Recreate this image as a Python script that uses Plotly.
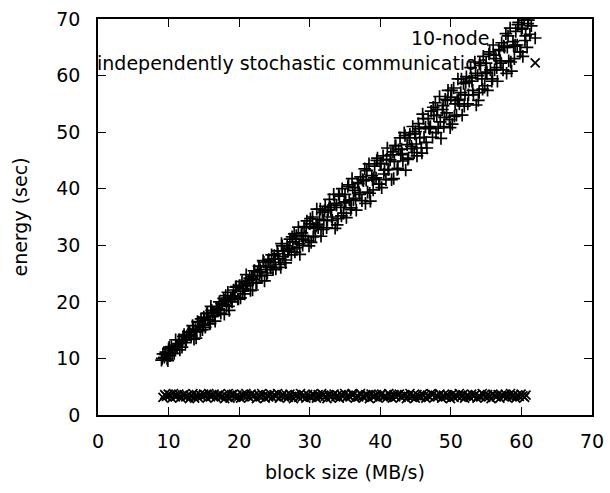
import plotly.graph_objects as go

# ---- data ----
series_names = ["10-node", "independently stochastic communication"]

node_x = [
    9.0, 9.2, 9.4, 9.6, 9.8, 10.0, 10.2, 10.4, 10.6, 10.8, 11.0, 11.2, 11.4, 11.6, 11.8,
    12.0, 12.2, 12.4, 12.6, 12.8, 13.0, 13.2, 13.4, 13.6, 13.8, 14.0, 14.2, 14.4, 14.6, 14.8,
    15.0, 15.2, 15.4, 15.6, 15.8, 16.0, 16.2, 16.4, 16.6, 16.8, 17.0, 17.2, 17.4, 17.6, 17.8,
    18.0, 18.2, 18.4, 18.6, 18.8, 19.0, 19.2, 19.4, 19.6, 19.8, 20.0, 20.2, 20.4, 20.6, 20.8,
    21.0, 21.2, 21.4, 21.6, 21.8, 22.0, 22.2, 22.4, 22.6, 22.8, 23.0, 23.2, 23.4, 23.6, 23.8,
    24.0, 24.2, 24.4, 24.6, 24.8, 25.0, 25.2, 25.4, 25.6, 25.8, 26.0, 26.2, 26.4, 26.6, 26.8,
    27.0, 27.2, 27.4, 27.6, 27.8, 28.0, 28.2, 28.4, 28.6, 28.8, 29.0, 29.2, 29.4, 29.6, 29.8,
    30.0, 30.2, 30.4, 30.6, 30.8, 31.0, 31.2, 31.4, 31.6, 31.8, 32.0, 32.2, 32.4, 32.6, 32.8,
    33.0, 33.2, 33.4, 33.6, 33.8, 34.0, 34.2, 34.4, 34.6, 34.8, 35.0, 35.2, 35.4, 35.6, 35.8,
    36.0, 36.2, 36.4, 36.6, 36.8, 37.0, 37.2, 37.4, 37.6, 37.8, 38.0, 38.2, 38.4, 38.6, 38.8,
    39.0, 39.2, 39.4, 39.6, 39.8, 40.0, 40.2, 40.4, 40.6, 40.8, 41.0, 41.2, 41.4, 41.6, 41.8,
    42.0, 42.2, 42.4, 42.6, 42.8, 43.0, 43.2, 43.4, 43.6, 43.8, 44.0, 44.2, 44.4, 44.6, 44.8,
    45.0, 45.2, 45.4, 45.6, 45.8, 46.0, 46.2, 46.4, 46.6, 46.8, 47.0, 47.2, 47.4, 47.6, 47.8,
    48.0, 48.2, 48.4, 48.6, 48.8, 49.0, 49.2, 49.4, 49.6, 49.8, 50.0, 50.2, 50.4, 50.6, 50.8,
    51.0, 51.2, 51.4, 51.6, 51.8, 52.0, 52.2, 52.4, 52.6, 52.8, 53.0, 53.2, 53.4, 53.6, 53.8,
    54.0, 54.2, 54.4, 54.6, 54.8, 55.0, 55.2, 55.4, 55.6, 55.8, 56.0, 56.2, 56.4, 56.6, 56.8,
    57.0, 57.2, 57.4, 57.6, 57.8, 58.0, 58.2, 58.4, 58.6, 58.8, 59.0, 59.2, 59.4, 59.6, 59.8,
    60.0, 60.2, 60.4, 60.6, 60.8, 61.0, 61.2, 61.4,
    9.1, 9.5, 9.9, 10.1, 10.5, 10.9, 11.1, 11.5, 11.9, 12.1, 12.5, 12.9,
    13.1, 13.5, 13.9, 14.1, 14.5, 14.9, 15.1, 15.5, 15.9, 16.1, 16.5, 16.9,
    17.1, 17.5, 17.9, 18.1, 18.5, 18.9, 19.1, 19.5, 19.9, 20.1, 20.5, 20.9,
    21.1, 21.5, 21.9, 22.1, 22.5, 22.9, 23.1, 23.5, 23.9, 24.1, 24.5, 24.9,
    25.1, 25.5, 25.9, 26.1, 26.5, 26.9, 27.1, 27.5, 27.9, 28.1, 28.5, 28.9,
    29.1, 29.5, 29.9, 30.1, 30.5, 30.9, 31.1, 31.5, 31.9, 32.1, 32.5, 32.9,
    33.1, 33.5, 33.9, 34.1, 34.5, 34.9, 35.1, 35.5, 35.9, 36.1, 36.5, 36.9,
    37.1, 37.5, 37.9, 38.1, 38.5, 38.9, 39.1, 39.5, 39.9, 40.1, 40.5, 40.9,
    41.1, 41.5, 41.9, 42.1, 42.5, 42.9, 43.1, 43.5, 43.9, 44.1, 44.5, 44.9,
    45.1, 45.5, 45.9, 46.1, 46.5, 46.9, 47.1, 47.5, 47.9, 48.1, 48.5, 48.9,
    49.1, 49.5, 49.9, 50.1, 50.5, 50.9, 51.1, 51.5, 51.9, 52.1, 52.5, 52.9,
    53.1, 53.5, 53.9, 54.1, 54.5, 54.9, 55.1, 55.5, 55.9, 56.1, 56.5, 56.9,
    57.1, 57.5, 57.9, 58.1, 58.5, 58.9, 59.1, 59.5, 59.9, 60.1, 60.5, 60.9]
node_y = [
    9.7, 10.8, 10.2, 11.1, 9.9, 11.7, 10.5, 12.1, 11.4, 10.9, 13.3, 12.1, 12.6, 11.5, 13.1,
    13.3, 14.2, 12.8, 14.0, 14.7, 14.7, 14.0, 15.8, 13.4, 15.1, 14.7, 16.4, 15.6, 17.0, 15.1,
    17.3, 15.5, 17.9, 16.8, 16.1, 19.2, 17.4, 18.2, 16.6, 18.9, 18.7, 20.0, 18.0, 19.6, 20.6,
    20.3, 19.3, 21.7, 18.5, 20.7, 20.0, 22.1, 21.0, 22.7, 20.5, 22.8, 20.7, 23.6, 22.3, 21.4,
    24.8, 22.9, 23.8, 22.0, 24.5, 24.0, 25.5, 23.3, 25.2, 26.3, 25.7, 24.6, 27.3, 23.7, 26.2,
    25.1, 27.5, 26.3, 28.3, 25.7, 28.2, 25.8, 29.0, 27.6, 26.6, 30.3, 28.0, 29.0, 26.9, 29.9,
    29.2, 31.1, 28.3, 30.6, 32.0, 31.1, 29.6, 33.2, 28.4, 31.7, 30.0, 33.3, 31.6, 34.3, 30.8,
    33.8, 30.5, 35.0, 33.0, 31.6, 36.4, 33.1, 34.6, 31.6, 35.8, 34.4, 36.9, 33.1, 36.2, 38.1,
    36.3, 34.4, 39.0, 33.0, 37.1, 34.7, 38.7, 36.7, 40.0, 35.7, 39.0, 34.9, 40.4, 38.0, 36.3,
    41.8, 38.0, 39.7, 36.2, 41.1, 39.3, 42.1, 37.9, 41.4, 43.5, 41.5, 39.4, 44.4, 37.8, 42.3,
    39.8, 44.0, 41.9, 45.4, 40.8, 44.4, 40.2, 45.8, 43.3, 41.6, 47.2, 43.4, 45.1, 41.6, 46.5,
    44.8, 47.6, 43.4, 46.9, 49.0, 47.0, 44.9, 49.9, 43.3, 47.8, 45.4, 49.6, 47.5, 51.0, 46.4,
    50.1, 45.8, 51.5, 49.0, 47.2, 53.2, 49.1, 50.9, 47.2, 52.4, 50.6, 53.7, 49.1, 52.9, 55.2,
    53.0, 50.7, 56.3, 48.9, 54.0, 51.0, 55.8, 53.4, 57.4, 52.2, 56.2, 51.4, 57.8, 55.0, 53.0,
    59.4, 55.0, 57.0, 53.0, 58.6, 56.6, 59.8, 55.0, 59.0, 61.4, 59.0, 56.6, 62.4, 54.8, 60.0,
    57.0, 61.8, 59.4, 63.4, 58.2, 62.2, 57.4, 63.8, 61.0, 59.0, 65.4, 61.0, 63.0, 59.0, 64.6,
    62.6, 65.8, 61.0, 65.0, 67.4, 65.0, 62.6, 68.4, 60.8, 66.0, 63.0, 67.8, 65.4, 69.4, 64.2,
    68.2, 63.4, 69.8, 67.0, 65.0, 69.8, 67.3, 68.8,
    10.0, 10.7, 9.6, 12.0, 10.9, 11.6, 12.3, 13.3, 12.0, 13.9, 13.3, 14.2,
    14.2, 15.2, 13.6, 16.5, 14.9, 15.9, 16.7, 18.0, 16.2, 18.5, 17.6, 18.8,
    18.5, 19.7, 17.8, 21.1, 19.2, 20.4, 21.0, 22.6, 20.5, 22.9, 21.9, 23.3,
    22.9, 24.2, 22.1, 25.5, 23.4, 24.7, 25.3, 27.0, 24.7, 27.2, 26.1, 27.6,
    27.0, 28.5, 26.1, 29.9, 27.4, 28.9, 29.5, 31.5, 28.8, 31.7, 30.3, 32.2,
    31.1, 33.1, 29.9, 34.7, 31.5, 33.4, 33.7, 36.4, 32.8, 36.1, 34.4, 36.7,
    35.0, 37.4, 33.6, 39.0, 35.2, 37.5, 37.7, 40.7, 36.6, 40.2, 38.3, 40.9,
    39.0, 41.6, 37.4, 43.2, 39.2, 41.6, 41.9, 45.0, 40.8, 44.5, 42.6, 45.2,
    43.4, 46.0, 41.8, 47.6, 43.6, 46.0, 46.2, 49.4, 45.2, 49.0, 47.1, 49.7,
    47.9, 50.6, 46.3, 52.4, 48.2, 50.8, 51.0, 54.4, 49.9, 54.0, 51.8, 54.7,
    52.6, 55.6, 50.8, 57.4, 52.8, 55.6, 55.8, 59.4, 54.6, 58.8, 56.6, 59.6,
    57.4, 60.4, 55.6, 62.2, 57.6, 60.4, 60.6, 64.2, 59.4, 63.6, 61.4, 64.4,
    62.2, 65.2, 60.4, 67.0, 62.4, 65.2, 65.4, 69.0, 64.2, 68.4, 66.2, 69.2]

comm_x = [
    9.2, 9.45, 9.7, 9.95, 10.2, 10.45, 10.7, 10.95, 11.2, 11.45, 11.7, 11.95,
    12.2, 12.45, 12.7, 12.95, 13.2, 13.45, 13.7, 13.95, 14.2, 14.45, 14.7, 14.95,
    15.2, 15.45, 15.7, 15.95, 16.2, 16.45, 16.7, 16.95, 17.2, 17.45, 17.7, 17.95,
    18.2, 18.45, 18.7, 18.95, 19.2, 19.45, 19.7, 19.95, 20.2, 20.45, 20.7, 20.95,
    21.2, 21.45, 21.7, 21.95, 22.2, 22.45, 22.7, 22.95, 23.2, 23.45, 23.7, 23.95,
    24.2, 24.45, 24.7, 24.95, 25.2, 25.45, 25.7, 25.95, 26.2, 26.45, 26.7, 26.95,
    27.2, 27.45, 27.7, 27.95, 28.2, 28.45, 28.7, 28.95, 29.2, 29.45, 29.7, 29.95,
    30.2, 30.45, 30.7, 30.95, 31.2, 31.45, 31.7, 31.95, 32.2, 32.45, 32.7, 32.95,
    33.2, 33.45, 33.7, 33.95, 34.2, 34.45, 34.7, 34.95, 35.2, 35.45, 35.7, 35.95,
    36.2, 36.45, 36.7, 36.95, 37.2, 37.45, 37.7, 37.95, 38.2, 38.45, 38.7, 38.95,
    39.2, 39.45, 39.7, 39.95, 40.2, 40.45, 40.7, 40.95, 41.2, 41.45, 41.7, 41.95,
    42.2, 42.45, 42.7, 42.95, 43.2, 43.45, 43.7, 43.95, 44.2, 44.45, 44.7, 44.95,
    45.2, 45.45, 45.7, 45.95, 46.2, 46.45, 46.7, 46.95, 47.2, 47.45, 47.7, 47.95,
    48.2, 48.45, 48.7, 48.95, 49.2, 49.45, 49.7, 49.95, 50.2, 50.45, 50.7, 50.95,
    51.2, 51.45, 51.7, 51.95, 52.2, 52.45, 52.7, 52.95, 53.2, 53.45, 53.7, 53.95,
    54.2, 54.45, 54.7, 54.95, 55.2, 55.45, 55.7, 55.95, 56.2, 56.45, 56.7, 56.95,
    57.2, 57.45, 57.7, 57.95, 58.2, 58.45, 58.7, 58.95, 59.2, 59.45, 59.7, 59.95,
    60.2, 60.45, 60.65]
comm_y = [
    3.1, 3.6, 3.3, 3.7, 3.5, 3.0, 3.8, 3.2, 3.4, 3.7, 3.1, 3.5,
    3.6, 3.2, 3.4, 2.9, 3.3, 3.8, 3.0, 3.6, 3.1, 3.6, 3.3, 3.7,
    3.5, 3.0, 3.8, 3.2, 3.4, 3.7, 3.1, 3.5, 3.6, 3.2, 3.4, 2.9,
    3.3, 3.8, 3.0, 3.6, 3.7, 3.1, 3.5, 3.3, 3.0, 3.6, 3.2, 3.8,
    3.4, 3.1, 3.7, 3.3, 3.5, 2.9, 3.6, 3.2, 3.8, 3.4, 3.0, 3.5,
    3.2, 3.7, 3.1, 3.6, 3.3, 3.8, 3.0, 3.4, 3.6, 3.2, 3.5, 3.1,
    3.7, 3.3, 2.9, 3.6, 3.4, 3.1, 3.8, 3.2, 3.5, 3.0, 3.6, 3.3,
    3.1, 3.7, 3.4, 3.0, 3.6, 3.2, 3.8, 3.5, 3.3, 2.9, 3.6, 3.1,
    3.4, 3.7, 3.2, 3.5, 3.0, 3.6, 3.3, 3.8, 3.1, 3.5, 3.2, 3.7,
    3.6, 3.0, 3.4, 3.2, 3.8, 3.3, 3.1, 3.6, 3.5, 2.9, 3.7, 3.2,
    3.3, 3.6, 3.0, 3.5, 3.7, 3.2, 3.4, 3.1, 3.8, 3.3, 3.0, 3.6,
    3.2, 3.5, 3.7, 3.1, 3.4, 3.6, 2.9, 3.3, 3.8, 3.2, 3.5, 3.0,
    3.6, 3.3, 3.1, 3.7, 3.4, 3.0, 3.5, 3.2, 3.8, 3.6, 3.1, 3.4,
    3.3, 3.7, 3.0, 3.5, 3.2, 3.6, 3.4, 2.9, 3.7, 3.1, 3.5, 3.3,
    3.8, 3.2, 3.6, 3.0, 3.4, 3.5, 3.1, 3.7, 3.3, 3.6, 3.0, 3.4,
    3.2, 3.8, 3.5, 3.1, 3.6, 3.3, 2.9, 3.7, 3.4, 3.2, 3.6, 3.0,
    3.5, 3.3, 3.7, 3.1, 3.4, 3.8, 3.2, 3.6, 3.0, 3.5, 3.3, 3.7,
    3.4, 3.1, 3.5]

tick_vals = [0, 10, 20, 30, 40, 50, 60, 70]
x_title = "block size (MB/s)"
y_title = "energy (sec)"

# ---- styling ----
FONT = "DejaVu Sans"
FS = 19
symbols = ["cross-thin-open", "x-thin-open"]
marker_style = dict(size=9, color="black")
marker_line = dict(color="black", width=1.7)

fig = go.Figure()
for name, xs, ys, sym in [(series_names[0], node_x, node_y, symbols[0]),
                          (series_names[1], comm_x, comm_y, symbols[1])]:
    fig.add_trace(go.Scatter(
        x=xs, y=ys, mode="markers", name=name, showlegend=False, cliponaxis=True,
        hoverinfo="skip",
        marker=dict(symbol=sym, line=marker_line, **marker_style),
    ))

# gnuplot-style key: text right-aligned, point sample to the right
key_rows_y = [0.952, 0.889]
key_text_x = 0.795
key_sample_x = 0.885
for i, name in enumerate(series_names):
    fig.add_annotation(x=key_text_x, y=key_rows_y[i], xref="paper", yref="paper",
                       text=name, showarrow=False, xanchor="right", yanchor="middle",
                       font=dict(family=FONT, size=FS, color="black"))
    fig.add_trace(go.Scatter(
        x=[key_sample_x], y=[key_rows_y[i]], xaxis="x2", yaxis="y2", mode="markers",
        showlegend=False, hoverinfo="skip",
        marker=dict(symbol=symbols[i], line=marker_line, **marker_style),
    ))

axis_common = dict(
    range=[0, 70], tickvals=tick_vals, ticks="inside", ticklen=8, tickwidth=1.2,
    tickcolor="black", showline=True, linecolor="black", linewidth=1.5, mirror="ticks",
    showgrid=False, zeroline=False, tickfont=dict(family=FONT, size=FS, color="black"),
    automargin=False,
)
fig.update_layout(
    width=610, height=493,
    margin=dict(l=98, r=18, t=19, b=78),
    paper_bgcolor="white", plot_bgcolor="white",
    font=dict(family=FONT, size=FS, color="black"),
    xaxis=dict(**axis_common, ticklabelstandoff=8,
               title=dict(text=x_title, font=dict(family=FONT, size=FS), standoff=15)),
    yaxis=dict(**axis_common, ticklabelstandoff=12,
               title=dict(text=y_title, font=dict(family=FONT, size=FS), standoff=24)),
    xaxis2=dict(range=[0, 1], overlaying="x", visible=False),
    yaxis2=dict(range=[0, 1], overlaying="y", visible=False),
    showlegend=False,
)

# remove the browser's default 8px body margin so the figure fills the window exactly
fig.write_html("out.html", config={"displayModeBar": False},
               post_script="document.body.style.margin='0';")
